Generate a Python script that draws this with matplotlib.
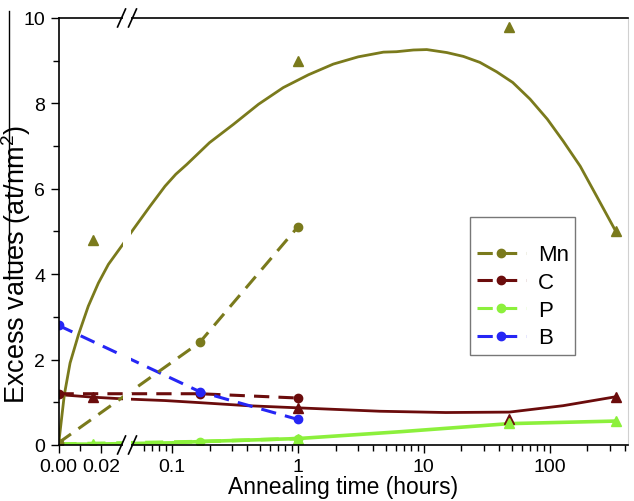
import numpy as np
import matplotlib
matplotlib.use("Agg")
import matplotlib.pyplot as plt
from matplotlib.lines import Line2D
from matplotlib.patches import Rectangle

plt.rcParams["font.family"] = ["Liberation Sans", "DejaVu Sans"]
plt.rcParams["mathtext.default"] = "regular"

# dashed series with circles
t_circ = [0, 0.167, 1]
mn_circ = [0.05, 2.4, 5.1]
c_circ = [1.2, 1.2, 1.1]
p_circ = [0.02, 0.08, 0.15]
b_circ = [2.8, 1.25, 0.6]

# triangles
t_tri = [0.016, 1, 48, 336]
mn_tri = [4.8, 9.0, 9.8, 5.0]
c_tri = [1.12, 0.87, 0.6, 1.13]
p_tri = [0.02, 0.15, 0.52, 0.56]

# solid fit curves
mn_fit_t = [0, 0.0027, 0.0054, 0.0093, 0.0139, 0.0186, 0.0233, 0.0295, 0.0497, 0.0674,
            0.0887, 0.108, 0.132, 0.2, 0.31, 0.49, 0.77, 1.22, 1.92, 3.03, 4.8, 6.1, 8.3,
            10.6, 15.3, 20.7, 28, 38, 51, 70, 96, 128, 175, 236, 336]
mn_fit_v = [0, 1.17, 1.92, 2.58, 3.25, 3.79, 4.23, 4.66, 5.05, 5.59,
            6.06, 6.34, 6.57, 7.08, 7.51, 7.98, 8.37, 8.67, 8.92, 9.09, 9.2, 9.21, 9.25,
            9.26, 9.19, 9.10, 8.96, 8.74, 8.49, 8.10, 7.63, 7.12, 6.53, 5.83, 5.0]
c_fit_t = [0, 0.016, 0.03, 0.089, 0.17, 0.4, 1, 4.5, 15, 48, 128, 336]
c_fit_v = [1.18, 1.12, 1.08, 1.04, 0.99, 0.92, 0.87, 0.79, 0.76, 0.77, 0.92, 1.13]
p_fit_t = [0, 0.016, 0.1, 0.167, 1, 6.5, 48, 336]
p_fit_v = [0.02, 0.02, 0.05, 0.08, 0.15, 0.31, 0.5, 0.56]

x_major = [0, 0.02, 0.1, 1, 10, 100]
x_labels = ["0.00", "0.02", "0.1", "1", "10", "100"]
x_minor = [0.01, 0.06, 0.07, 0.08, 0.09] + [i / 10 for i in range(2, 10)] + \
          list(range(2, 10)) + list(range(20, 100, 10)) + [200, 300, 400]

MN, C, P, B = "#7a7a1c", "#6b0c0c", "#8cf03c", "#2626f5"

# broken axis: linear 0..XL, then log from XG
XL, XG, K = 0.032, 0.0443, 16.99


def fwd(x):
    x = np.asarray(x, float)
    lg = K * XL + np.log10(np.maximum(x, XG) / XG)
    return np.where(x <= XL, K * x, lg)


def inv(u):
    u = np.asarray(u, float)
    return np.where(u <= K * XL, u / K, XG * 10 ** np.minimum(u - K * XL, 10))


fig = plt.figure(figsize=(6.34, 5.02), dpi=100)
ax = fig.add_axes([0.0923, 0.1116, 0.8990, 0.8506])
ax.set_xscale("function", functions=(fwd, inv))

dash = (0, (5, 3))
ax.plot(p_fit_t, p_fit_v, color=P, lw=2.6)
ax.plot(c_fit_t, c_fit_v, color=C, lw=2.0)
ax.plot(mn_fit_t, mn_fit_v, color=MN, lw=2.0)

ax.plot(t_circ, p_circ, color=P, lw=2.6, ls=dash, marker="o", ms=6)
ax.plot(t_circ, c_circ, color=C, lw=2.2, ls=dash, marker="o", ms=6)
ax.plot(t_circ, b_circ, color=B, lw=2.2, ls=dash, marker="o", ms=6)
ax.plot(t_circ, mn_circ, color=MN, lw=2.2, ls=dash, marker="o", ms=6)

ax.plot(t_tri, mn_tri, ls="none", marker="^", color=MN, ms=7)
ax.plot(t_tri, c_tri, ls="none", marker="^", color=C, ms=7)
ax.plot(t_tri, p_tri, ls="none", marker="^", color=P, ms=7)

ax.set_xlim(0, 423)
ax.set_ylim(0, 10)
ax.set_xticks(x_major, x_labels)
ax.set_xticks(x_minor, minor=True)
ax.set_yticks(range(0, 11, 2))
ax.set_yticks(range(1, 10, 2), minor=True)
ax.tick_params(which="both", direction="out", width=1, labelsize=14, top=False, right=False)
ax.tick_params(which="major", length=6)
ax.tick_params(which="minor", length=4)
for s in ["left", "bottom", "top"]:
    ax.spines[s].set_linewidth(1.2)
ax.spines["right"].set_color("#d0d0d0")
ax.spines["right"].set_linewidth(0.8)

ax.set_xlabel("Annealing time (hours)", fontsize=16.5, labelpad=0)
ax.set_ylabel("Excess values (at/nm$^2$)", fontsize=19.5)
ax.yaxis.set_label_coords(-0.0439, 0.425)

# axis break
xb = 0.1202
ax.add_patch(Rectangle((xb - 0.0075, -0.01), 0.015, 1.02, transform=ax.transAxes,
                       facecolor="white", edgecolor="none", zorder=2.6, clip_on=False))
for yb in (0, 1):
    for dx in (-0.0096, 0.0096):
        ax.plot([xb + dx - 0.007, xb + dx + 0.007], [yb - 0.021, yb + 0.021],
                transform=ax.transAxes, color="black", lw=1.2, clip_on=False, zorder=3)

# overline over the y label
fig.add_artist(Line2D([0.0137, 0.0137], [0.442, 0.976], color="black", lw=1))

handles = [Line2D([], [], color=col, lw=2.2, ls=dash, marker="o", ms=6)
           for col in (MN, C, P, B)]
leg = ax.legend(handles, ["Mn", "C", "P", "B"], loc="upper left",
                bbox_to_anchor=(0.722, 0.534), fontsize=16, title=" ",
                title_fontsize=11, handlelength=2.2, handletextpad=0.55,
                labelspacing=0.3, borderpad=0.3, borderaxespad=0, fancybox=False,
                framealpha=1, numpoints=1)
leg.get_frame().set_edgecolor("#777777")
leg.get_frame().set_linewidth(1)

fig.savefig("out.png", dpi=100)
